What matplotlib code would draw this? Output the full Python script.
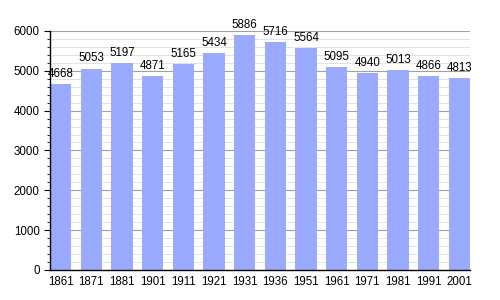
import matplotlib
matplotlib.use("Agg")
import matplotlib.pyplot as plt
from matplotlib.ticker import MultipleLocator

years = ["1861", "1871", "1881", "1901", "1911", "1921", "1931", "1936",
         "1951", "1961", "1971", "1981", "1991", "2001"]
population = [4668, 5053, 5197, 4871, 5165, 5434, 5886, 5716,
              5564, 5095, 4940, 5013, 4866, 4813]

plt.rcParams['font.family'] = ['Liberation Sans', 'DejaVu Sans']

fig = plt.figure(figsize=(5, 3), dpi=100)
ax = fig.add_axes([0.1, 0.1, 0.84, 0.797])

x = list(range(len(years)))
width = 0.69
ax.bar(x, population, width=width, align='edge', color='#99aaff', zorder=2)
for xi, v in zip(x, population):
    ax.annotate(str(v), (xi + width / 2, v), xytext=(0, 3),
                textcoords='offset points', ha='center', va='bottom',
                fontsize=8.3, zorder=3)

ax.set_xlim(0, len(years) - 1 + width)
ax.set_ylim(0, 6000)
ax.yaxis.set_major_locator(MultipleLocator(1000))
ax.yaxis.set_minor_locator(MultipleLocator(200))
ax.grid(axis='y', which='major', color='#a0a0a0', linewidth=0.8, zorder=0)
ax.grid(axis='y', which='minor', color='#dddddd', linewidth=0.6, zorder=0)
ax.set_axisbelow(True)

ax.set_xticks([xi + width / 2 for xi in x])
ax.set_xticklabels(years)
ax.tick_params(axis='x', length=0, labelsize=8.3, pad=4)
ax.tick_params(axis='y', which='major', length=4, labelsize=8.3, direction='out')
ax.tick_params(axis='y', which='minor', length=2.5, direction='out')

for s in ['top', 'right']:
    ax.spines[s].set_visible(False)
ax.spines['left'].set_linewidth(1.0)
ax.spines['bottom'].set_linewidth(1.0)

fig.savefig("out.png", dpi=100, facecolor='white')
